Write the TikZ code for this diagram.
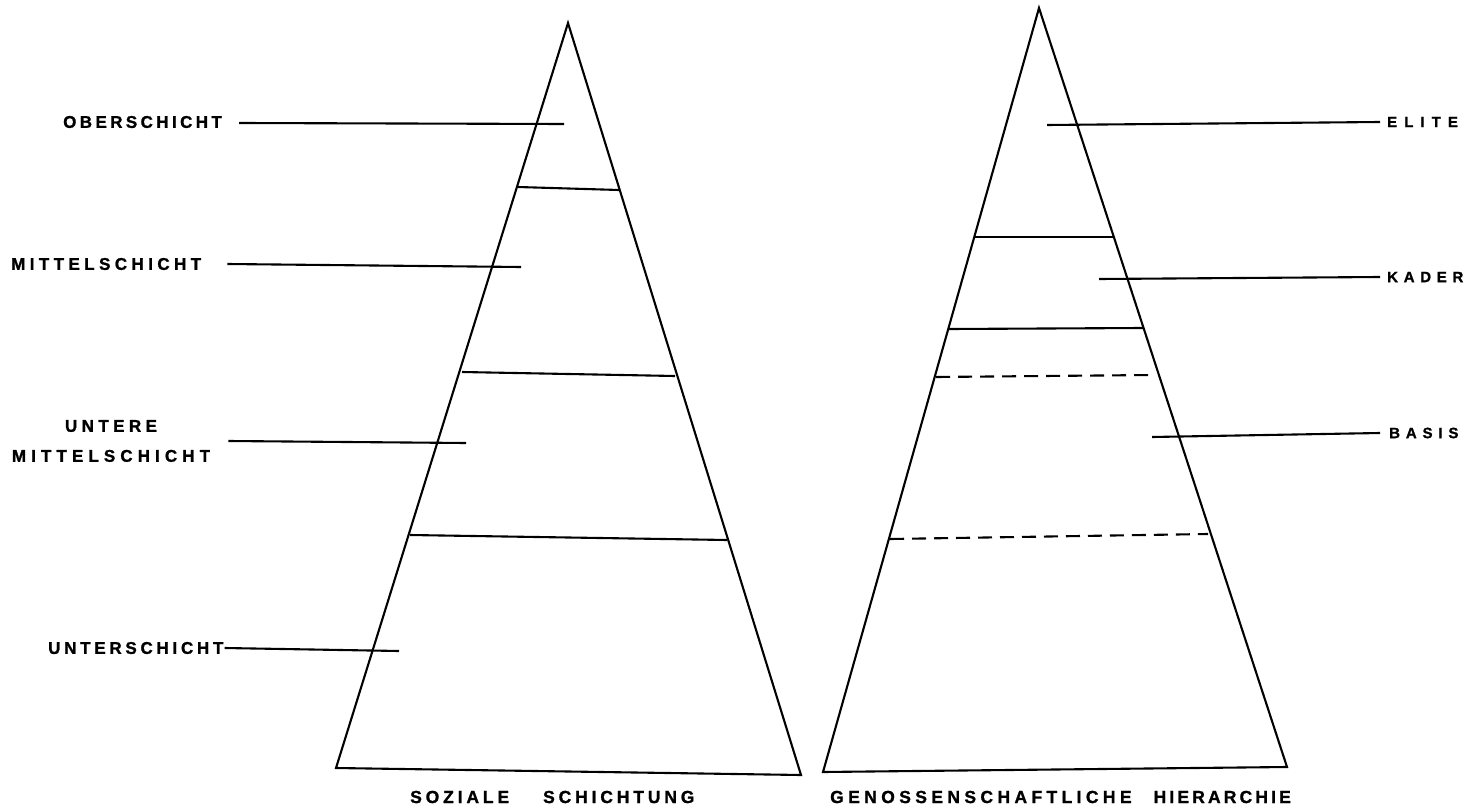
\documentclass[tikz,border=0pt]{standalone}
\usepackage{fontspec}
\setmainfont{Liberation Sans}
\begin{document}
\begin{tikzpicture}[x=1pt,y=-1pt,
  edge/.style={line width=2.1pt},
  dashedge/.style={line width=2.1pt, dash pattern=on 14pt off 8pt},
  lbl/.style={inner sep=0pt, font=\bfseries\fontsize{17}{30}\selectfont},
  rlbl/.style={inner sep=0pt, font=\bfseries\fontsize{15}{16}\selectfont},
  blbl/.style={inner sep=0pt, font=\bfseries\fontsize{17.5}{18}\selectfont},
]
\useasboundingbox (0,0) rectangle (1466,805);

% ---------- left pyramid ----------
\coordinate (LA) at (568,23);
\coordinate (LBL) at (336,768);
\coordinate (LBR) at (801,775);
\draw[edge, line join=miter] (LA) -- (LBL) -- (LBR) -- cycle;

\coordinate (L1a) at (518,187);  \coordinate (L1b) at (619,190);
\coordinate (L2a) at (462,372);  \coordinate (L2b) at (675,376);
\coordinate (L3a) at (410,535);  \coordinate (L3b) at (727,540);
\draw[edge] (L1a) -- (L1b);
\draw[edge] (L2a) -- (L2b);
\draw[edge] (L3a) -- (L3b);

\node[lbl, anchor=west] (obers) at (63,122) {\addfontfeature{LetterSpace=20,FakeBold=1.2}OBERSCHICHT};
\node[lbl, anchor=west] (mittel) at (11,264) {\addfontfeature{LetterSpace=26,FakeBold=1.2}MITTELSCHICHT};
\node[lbl, align=center] (untere) at (111,441) {\addfontfeature{LetterSpace=26,FakeBold=1.2}UNTERE\\\addfontfeature{LetterSpace=30,FakeBold=1.2}MITTELSCHICHT};
\node[lbl, anchor=west] (unter) at (48,648) {\addfontfeature{LetterSpace=22,FakeBold=1.2}UNTERSCHICHT};

\coordinate (obE) at (564,124);
\coordinate (miE) at (521,267);
\coordinate (umE) at (466,443);
\coordinate (unE) at (399,651);
\draw[edge] ([xshift=17pt,yshift=-1pt]obers.east) -- (obE);
\draw[edge] ([xshift=26pt]mittel.east) -- (miE);
\draw[edge] ([xshift=18pt]untere.east) -- (umE);
\draw[edge] ([xshift=1pt]unter.east) -- (unE);

\node[blbl, anchor=west] (soz) at (410,797) {\addfontfeature{LetterSpace=22,FakeBold=1.2}SOZIALE\hspace{34pt}SCHICHTUNG};

% ---------- right pyramid ----------
\coordinate (RA) at (1039,8);
\coordinate (RBL) at (823,772);
\coordinate (RBR) at (1287,767);
\draw[edge, line join=miter] (RA) -- (RBL) -- (RBR) -- cycle;

\coordinate (R1a) at (974,237);  \coordinate (R1b) at (1113,237);
\coordinate (R2a) at (949,329);  \coordinate (R2b) at (1143,328);
\coordinate (R3a) at (936,377);  \coordinate (R3b) at (1153,375);
\coordinate (R4a) at (890,539);  \coordinate (R4b) at (1208,534);
\draw[edge] (R1a) -- (R1b);
\draw[edge] (R2a) -- (R2b);
\draw[dashedge] (R3a) -- (R3b);
\draw[dashedge] (R4a) -- (R4b);

\node[rlbl, anchor=west] (elite) at (1387,122) {\addfontfeature{LetterSpace=47,FakeBold=1.2}ELITE};
\node[rlbl, anchor=west] (kader) at (1387,277) {\addfontfeature{LetterSpace=38,FakeBold=1.2}KADER};
\node[rlbl, anchor=west] (basis) at (1389,433) {\addfontfeature{LetterSpace=39,FakeBold=1.2}BASIS};

\coordinate (elS) at (1047,125);
\coordinate (kaS) at (1099,279);
\coordinate (baS) at (1152,437);
\draw[edge] (elS) -- ([xshift=-7pt]elite.west);
\draw[edge] (kaS) -- ([xshift=-7pt]kader.west);
\draw[edge] (baS) -- ([xshift=-9pt]basis.west);

\node[blbl, anchor=west] (gen) at (830,797) {\addfontfeature{LetterSpace=25,FakeBold=1.2}GENOSSENSCHAFTLICHE\hspace{22pt}\addfontfeature{LetterSpace=18}HIERARCHIE};
\end{tikzpicture}
\end{document}
